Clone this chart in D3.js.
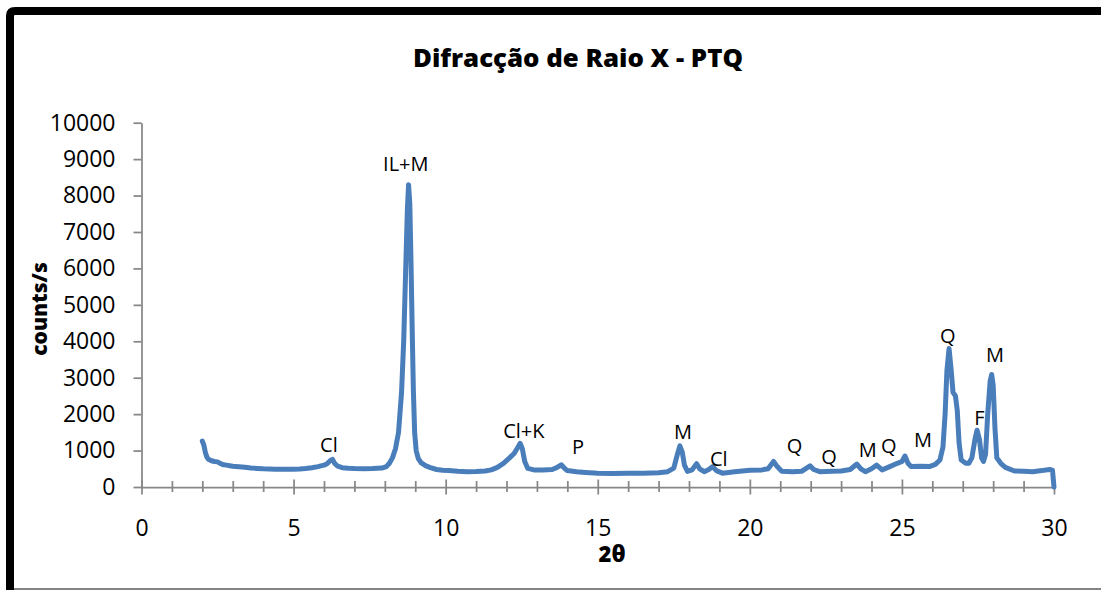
<!DOCTYPE html>
<html>
<head>
<meta charset="utf-8">
<script src="https://cdn.jsdelivr.net/npm/d3@7"></script>
<style>
  html, body { margin: 0; padding: 0; background: #fff; }
  svg { display: block; }
  text { font-family: "Open Sans", "Noto Sans", sans-serif; fill: #000; }
</style>
</head>
<body>
<svg id="chart" width="1101" height="590"></svg>
<script>
// ---------- DATA ----------
const twoTheta = [
  2.00, 2.05, 2.10, 2.15, 2.20, 2.30, 2.40, 2.50, 2.60, 2.70, 2.80, 2.90, 3.00, 3.20, 3.40, 3.60, 3.80,
  4.00, 4.20, 4.40, 4.60, 4.80, 5.00, 5.20, 5.40, 5.60, 5.80, 6.00, 6.10, 6.20, 6.28, 6.35, 6.45, 6.60,
  6.80, 7.00, 7.30, 7.60, 7.90, 8.05, 8.15, 8.25, 8.35, 8.45, 8.55, 8.62, 8.68, 8.74, 8.78, 8.82, 8.86,
  8.90, 8.94, 8.98, 9.03, 9.10, 9.20, 9.35, 9.50, 9.70, 9.90, 10.10, 10.40, 10.70, 11.00, 11.30, 11.50,
  11.70, 11.90, 12.10, 12.25, 12.38, 12.45, 12.52, 12.60, 12.70, 12.90, 13.20, 13.50, 13.65, 13.80, 13.90,
  14.00, 14.30, 14.60, 15.00, 15.50, 16.00, 16.50, 17.00, 17.30, 17.50, 17.62, 17.70, 17.78, 17.85, 17.95,
  18.10, 18.25, 18.35, 18.50, 18.65, 18.78, 18.90, 19.10, 19.50, 20.00, 20.40, 20.60, 20.78, 20.90, 21.05,
  21.40, 21.70, 21.98, 22.10, 22.30, 22.70, 23.00, 23.30, 23.52, 23.65, 23.80, 24.00, 24.17, 24.35, 24.60,
  24.85, 25.00, 25.10, 25.20, 25.30, 25.60, 25.90, 26.10, 26.25, 26.35, 26.42, 26.48, 26.55, 26.62, 26.68,
  26.76, 26.82, 26.88, 26.95, 27.10, 27.20, 27.30, 27.40, 27.47, 27.55, 27.62, 27.68, 27.75, 27.82, 27.90,
  27.95, 28.00, 28.06, 28.12, 28.25, 28.40, 28.70, 29.00, 29.30, 29.60, 29.85, 29.95, 30.00
];
const counts = [
  1260, 1150, 950, 820, 760, 720, 700, 690, 640, 610, 600, 585, 570, 555, 540, 520, 510,
  500, 495, 490, 485, 490, 485, 495, 510, 530, 560, 600, 640, 720, 760, 650, 570, 530,
  515, 505, 500, 505, 520, 560, 650, 800, 1050, 1500, 2600, 4000, 5800, 7600, 8300, 7800, 6200,
  4300, 2600, 1500, 1000, 780, 660, 580, 530, 480, 460, 450, 430, 420, 425, 440, 470,
  540, 650, 800, 920, 1100, 1200, 1050, 700, 510, 470, 470, 480, 530, 610, 520,
  450, 420, 400, 380, 370, 375, 380, 390, 420, 520, 900, 1130, 950, 600, 430,
  470, 640, 500, 420, 480, 560, 450, 380, 420, 460, 470, 500, 700, 560, 430,
  420, 430, 580, 480, 420, 430, 440, 480, 630, 500, 420, 500, 600, 470, 560,
  650, 700, 850, 650, 560, 570, 560, 620, 740, 1100, 2000, 3200, 3800, 3200, 2600,
  2500, 2100, 1200, 740, 650, 650, 800, 1300, 1560, 1300, 800, 700, 900, 2000, 2900,
  3090, 2800, 1600, 800, 650, 540, 440, 430, 420, 450, 480, 460, 0
];

const xTickMajor = [0, 5, 10, 15, 20, 25, 30];
const xTickMinor = [1, 2, 3, 4, 6, 7, 8, 9, 11, 12, 13, 14, 16, 17, 18, 19, 21, 22, 23, 24, 26, 27, 28, 29];
const yTicks = [0, 1000, 2000, 3000, 4000, 5000, 6000, 7000, 8000, 9000, 10000];

const annLabels = ["Cl", "IL+M", "Cl+K", "P", "M", "Cl", "Q", "Q", "M", "Q", "M", "Q", "F", "M"];
const annX      = [6.16, 8.69, 12.57, 14.35, 17.80, 18.98, 21.47, 22.60, 23.88, 24.57, 25.69, 26.51, 27.55, 28.06];
const annY      = [1150, 8870, 1550, 1100, 1520, 770, 1130, 820, 1020, 1130, 1300, 4150, 1890, 3620];

const titleText = "Difracção de Raio X - PTQ";
const xTitle = "2θ";
const yTitle = "counts/s";

// ---------- CHART ----------
const svg = d3.select("#chart");
const axisColor = "#878787";

// frame (cropped chart border)
svg.append("path")
  .attr("d", "M10,600 L10,16 Q10,11 15,11 L1110,11")
  .attr("fill", "none").attr("stroke", "#000").attr("stroke-width", 8);
svg.append("line")
  .attr("x1", 14).attr("x2", 1101).attr("y1", 589).attr("y2", 589)
  .attr("stroke", "#5a5a5a").attr("stroke-width", 1.5);

const x = d3.scaleLinear().domain([0, 30]).range([141.5, 1054]);
const y = d3.scaleLinear().domain([0, 10000]).range([487, 122.7]);

// y axis
const gy = svg.append("g").attr("transform", `translate(${x(0)},0)`)
  .call(d3.axisLeft(y).tickValues(yTicks).tickSizeInner(8).tickSizeOuter(0).tickPadding(18).tickFormat(d3.format("d")));
gy.select(".domain").attr("stroke", axisColor).attr("stroke-width", 1.75);
gy.selectAll(".tick line").attr("stroke", axisColor).attr("stroke-width", 1.75);
gy.selectAll(".tick text").style("font-size", "23px").attr("fill", "#000");

// x axis minor ticks
const gxm = svg.append("g").attr("transform", `translate(0,${y(0)})`)
  .call(d3.axisBottom(x).tickValues(xTickMinor).tickSizeOuter(0).tickFormat(""));
gxm.select(".domain").remove();
gxm.selectAll(".tick line").attr("y1", -6).attr("y2", 5).attr("stroke", axisColor).attr("stroke-width", 1.75);

// x axis major
const gx = svg.append("g").attr("transform", `translate(0,${y(0)})`)
  .call(d3.axisBottom(x).tickValues(xTickMajor).tickSizeOuter(0).tickFormat(d3.format("d")));
gx.select(".domain").attr("stroke", axisColor).attr("stroke-width", 1.75);
gx.selectAll(".tick line").attr("y1", -7.5).attr("y2", 7.5).attr("stroke", axisColor).attr("stroke-width", 1.75);
gx.selectAll(".tick text").attr("y", 49).attr("dy", "0").style("font-size", "23px").attr("fill", "#000");

// series line
const pts = twoTheta.map((t, i) => [t, counts[i]]);
svg.append("path")
  .datum(pts)
  .attr("fill", "none")
  .attr("stroke", "#4A7EBB")
  .attr("stroke-width", 5)
  .attr("stroke-linejoin", "round")
  .attr("stroke-linecap", "round")
  .attr("d", d3.line().x(d => x(d[0])).y(d => y(d[1])));

// annotations
svg.append("g").selectAll("text")
  .data(annLabels)
  .join("text")
  .attr("x", (d, i) => x(annX[i]))
  .attr("y", (d, i) => y(annY[i]))
  .attr("dy", "0.35em")
  .attr("text-anchor", "middle")
  .style("font-size", "20px")
  .text(d => d);

// title
svg.append("text")
  .attr("x", 578).attr("y", 67)
  .attr("text-anchor", "middle")
  .attr("textLength", 330).attr("lengthAdjust", "spacingAndGlyphs")
  .style("font-size", "25px").style("font-weight", "800")
  .text(titleText);

// axis titles
svg.append("text")
  .attr("x", 612).attr("y", 562)
  .attr("text-anchor", "middle")
  .style("font-size", "22px").style("font-weight", "800")
  .text(xTitle);

svg.append("text")
  .attr("transform", "translate(47,309) rotate(-90)")
  .attr("text-anchor", "middle")
  .style("font-size", "21px").style("font-weight", "800")
  .text(yTitle);
</script>
</body>
</html>
